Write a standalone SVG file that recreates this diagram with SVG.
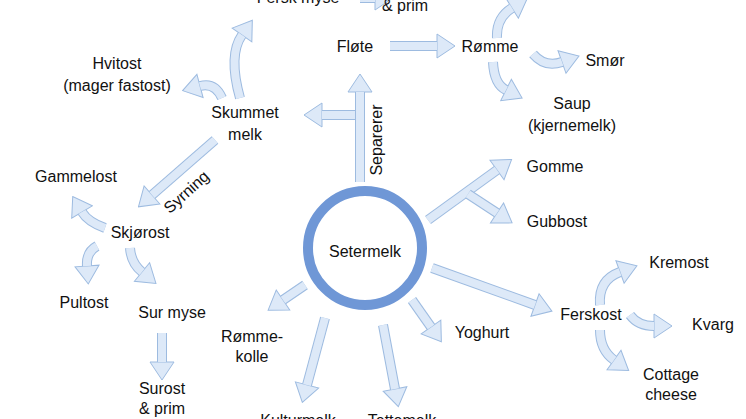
<svg xmlns="http://www.w3.org/2000/svg" width="746" height="419" viewBox="0 0 746 419">
<style>
text{font-family:"Liberation Sans",Arial,sans-serif;font-size:16px;fill:#111;text-anchor:middle}
.o{fill:none;stroke:#9dbbe0;stroke-width:10;marker-end:url(#h)}
.i{fill:none;stroke:#dde9f8;stroke-width:8}
</style>
<defs>
<marker id="h" markerUnits="userSpaceOnUse" markerWidth="20" markerHeight="26" viewBox="-1 -1 20 26" refX="0" refY="12" orient="auto">
<path d="M0,0 L18,12 L0,24 z" fill="#dde9f8" stroke="#9dbbe0" stroke-width="1"/>
</marker>
</defs>
<rect width="746" height="419" fill="#fff"/>
<g id="connectors">
<path class="o" d="M360,182 L360,92"/><path class="i" d="M360,182 L360,92"/>
<path class="o" d="M390,46 L437,46"/><path class="i" d="M390,46 L437,46"/>
<path class="o" d="M355,115 L322,115"/><path class="i" d="M355,115 L322,115"/>
<path class="o" d="M215,140 L152,195"/><path class="i" d="M215,140 L152,195"/>
<path class="o" d="M428,220 L497,170"/><path class="i" d="M428,220 L497,170"/>
<path class="o" d="M468,194 L497,213"/><path class="i" d="M468,194 L497,213"/>
<path class="o" d="M432,268 L535,305"/><path class="i" d="M432,268 L535,305"/>
<path class="o" d="M412,300 L431,327"/><path class="i" d="M412,300 L431,327"/>
<path class="o" d="M383,325 L395,389"/><path class="i" d="M383,325 L395,389"/>
<path class="o" d="M325,318 L307,385"/><path class="i" d="M325,318 L307,385"/>
<path class="o" d="M305,285 L283,300"/><path class="i" d="M305,285 L283,300"/>
<path class="o" d="M162,333 L162,362"/><path class="i" d="M162,333 L162,362"/>
<path class="o" d="M360,-2 L375,-2"/><path class="i" d="M360,-2 L375,-2"/>
<path class="o" d="M240,98 Q228,55 242,35"/><path class="i" d="M240,98 Q228,55 242,35"/>
<path class="o" d="M222,98 Q215,82 200,86"/><path class="i" d="M222,98 Q215,82 200,86"/>
<path class="o" d="M497,38 Q496,18 512,8"/><path class="i" d="M497,38 Q496,18 512,8"/>
<path class="o" d="M533,54 Q545,68 562,62"/><path class="i" d="M533,54 Q545,68 562,62"/>
<path class="o" d="M493,62 Q494,84 506,90"/><path class="i" d="M493,62 Q494,84 506,90"/>
<path class="o" d="M105,228 Q88,222 82,212"/><path class="i" d="M105,228 Q88,222 82,212"/>
<path class="o" d="M97,246 Q86,252 87,266"/><path class="i" d="M97,246 Q86,252 87,266"/>
<path class="o" d="M130,248 Q131,263 142,272"/><path class="i" d="M130,248 Q131,263 142,272"/>
<path class="o" d="M600,305 Q598,280 620,272"/><path class="i" d="M600,305 Q598,280 620,272"/>
<path class="o" d="M630,315 Q638,326 654,326"/><path class="i" d="M630,315 Q638,326 654,326"/>
<path class="o" d="M600,330 Q600,350 614,360"/><path class="i" d="M600,330 Q600,350 614,360"/>
</g>
<g id="setermelk"><circle cx="365" cy="248" r="57" fill="#fff" stroke="#6f97d6" stroke-width="10"/><text x="365" y="257">Setermelk</text></g>
<g id="fersk-myse"><text x="298" y="3">Fersk myse</text></g>
<g id="prim-top"><text x="405" y="11">&amp; prim</text></g>
<g id="flote"><text x="355" y="52">Fløte</text></g>
<g id="romme"><text x="490" y="52">Rømme</text></g>
<g id="smor"><text x="605" y="66">Smør</text></g>
<g id="saup"><text x="572" y="109">Saup</text><text x="572" y="131">(kjernemelk)</text></g>
<g id="hvitost"><text x="117" y="69">Hvitost</text><text x="117" y="91">(mager fastost)</text></g>
<g id="skummet"><text x="245" y="118">Skummet</text><text x="245" y="140">melk</text></g>
<g id="separerer"><text transform="translate(382,140) rotate(-90)">Separerer</text></g>
<g id="syrning"><text transform="translate(190,196) rotate(-42)">Syrning</text></g>
<g id="gammelost"><text x="76" y="182">Gammelost</text></g>
<g id="skjorost"><text x="140" y="238">Skjørost</text></g>
<g id="pultost"><text x="84" y="308">Pultost</text></g>
<g id="surmyse"><text x="172" y="318">Sur myse</text></g>
<g id="surost"><text x="162" y="394">Surost</text><text x="162" y="414">&amp; prim</text></g>
<g id="gomme"><text x="555" y="172">Gomme</text></g>
<g id="gubbost"><text x="557" y="227">Gubbost</text></g>
<g id="rommekolle"><text x="252" y="342">Rømme-</text><text x="252" y="362">kolle</text></g>
<g id="kulturmelk"><text x="298" y="426">Kulturmelk</text></g>
<g id="tettemelk"><text x="402" y="426">Tettemelk</text></g>
<g id="yoghurt"><text x="482" y="338">Yoghurt</text></g>
<g id="ferskost"><text x="591" y="320">Ferskost</text></g>
<g id="kremost"><text x="679" y="268">Kremost</text></g>
<g id="kvarg"><text x="713" y="330">Kvarg</text></g>
<g id="cottage"><text x="671" y="380">Cottage</text><text x="671" y="400">cheese</text></g>
</svg>
